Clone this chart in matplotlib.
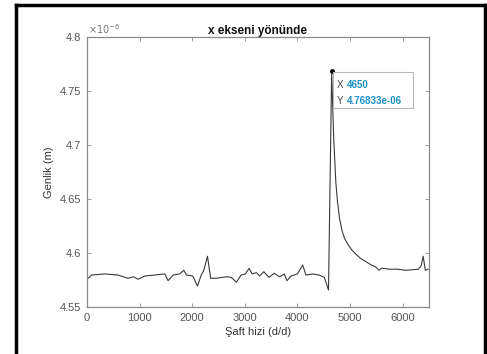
import matplotlib
matplotlib.use("Agg")
import matplotlib.pyplot as plt
from matplotlib.lines import Line2D
from matplotlib.patches import Rectangle
from matplotlib.ticker import FuncFormatter

plt.rcParams['font.family'] = ['Liberation Sans', 'DejaVu Sans']

# Shaft speed (d/d) and amplitude (x1e-6 m)
speed = [0, 90, 340, 590, 780, 880, 970, 1100, 1480, 1540, 1640, 1760, 1840, 1890,
         2010, 2100, 2170, 2220, 2290, 2350, 2460, 2650, 2740, 2840, 2930, 3010,
         3080, 3140, 3220, 3280, 3360, 3460, 3560, 3660, 3750, 3800, 3880, 4000,
         4100, 4160, 4290, 4410, 4510, 4590, 4650, 4670, 4690, 4710, 4730, 4760,
         4800, 4850, 4900, 4960, 5030, 5110, 5200, 5300, 5400, 5490, 5550, 5600,
         5740, 5900, 6060, 6300, 6350, 6390, 6430, 6480]
amp = [4.5757, 4.5796, 4.5806, 4.5796, 4.5766, 4.5780, 4.5757, 4.5787, 4.5806,
       4.5744, 4.5796, 4.5806, 4.5840, 4.5796, 4.5787, 4.5694, 4.5796, 4.5840,
       4.5970, 4.5766, 4.5766, 4.5780, 4.5775, 4.5729, 4.5796, 4.5806, 4.5858,
       4.5806, 4.5818, 4.5787, 4.5827, 4.5775, 4.5812, 4.5780, 4.5806, 4.5744,
       4.5787, 4.5806, 4.5889, 4.5796, 4.5806, 4.5796, 4.5775, 4.5657, 4.76833,
       4.7350, 4.7050, 4.6850, 4.6650, 4.6480, 4.6320, 4.6200, 4.6130, 4.6080,
       4.6030, 4.5990, 4.5950, 4.5920, 4.5890, 4.5870, 4.5840, 4.5860, 4.5850,
       4.5850, 4.5840, 4.5850, 4.5880, 4.5970, 4.5840, 4.5850]

peak_x = 4650
peak_y = 4.76833

x_ticks = [0, 1000, 2000, 3000, 4000, 5000, 6000]
y_ticks = [4.55, 4.6, 4.65, 4.7, 4.75, 4.8]

title = "x ekseni yönünde"
xlabel = "Şaft hizi (d/d)"
ylabel = "Genlik (m)"

fig = plt.figure(figsize=(4.87, 3.54), dpi=100)
ax = fig.add_axes([87/487, 47/354, 342/487, 270/354])

ax.plot(speed, amp, color='#3a3a3a', lw=0.8)
ax.plot([peak_x], [peak_y], 'o', color='black', ms=2.5)

ax.set_xlim(0, 6500)
ax.set_ylim(4.55, 4.8)
ax.set_xticks(x_ticks)
ax.set_yticks(y_ticks)
ax.yaxis.set_major_formatter(FuncFormatter(lambda v, p: ('%.2f' % v).rstrip('0')))

gray = '#555555'
for s in ax.spines.values():
    s.set_color('#8a8a8a')
    s.set_linewidth(0.9)
ax.tick_params(direction='in', length=3, width=0.6, colors='#8a8a8a',
               labelcolor=gray, labelsize=8, top=True, right=True, pad=4)

ax.set_title(title, fontsize=8.5, fontweight='bold', color='#111111', pad=2)
ax.set_xlabel(xlabel, fontsize=8, color='#333333', labelpad=3)
ax.set_ylabel(ylabel, fontsize=8, color='#333333', labelpad=4)
ax.text(0.003, 1.004, r'$\times10^{-6}$', transform=ax.transAxes, fontsize=7,
        color='#777777', ha='left', va='bottom')

# data tip
box = Rectangle((0.719, 0.737), 0.234, 0.133, transform=ax.transAxes,
                facecolor='white', edgecolor='#b8b8b8', lw=0.8, zorder=5)
ax.add_patch(box)
ax.text(0.731, 0.822, 'X', transform=ax.transAxes, fontsize=7, color='#444444',
        va='center', ha='left', zorder=6)
ax.text(0.760, 0.822, '%d' % peak_x, transform=ax.transAxes, fontsize=7,
        color='#1b8fc4', fontweight='bold', va='center', ha='left', zorder=6)
ax.text(0.731, 0.763, 'Y', transform=ax.transAxes, fontsize=7, color='#444444',
        va='center', ha='left', zorder=6)
ax.text(0.760, 0.763, '%.5e' % (peak_y * 1e-6), transform=ax.transAxes, fontsize=7,
        color='#1b8fc4', fontweight='bold', va='center', ha='left', zorder=6)

# outer black frame (left, top, right)
lw = 2.5
fig.add_artist(Line2D([15.5/487, 15.5/487], [0, 1 - 4.5/354], color='black', lw=lw))
fig.add_artist(Line2D([15.5/487, 484.5/487], [1 - 4.5/354, 1 - 4.5/354], color='black', lw=lw))
fig.add_artist(Line2D([484.5/487, 484.5/487], [0, 1 - 4.5/354], color='black', lw=lw))

fig.savefig('out.png', dpi=100)
